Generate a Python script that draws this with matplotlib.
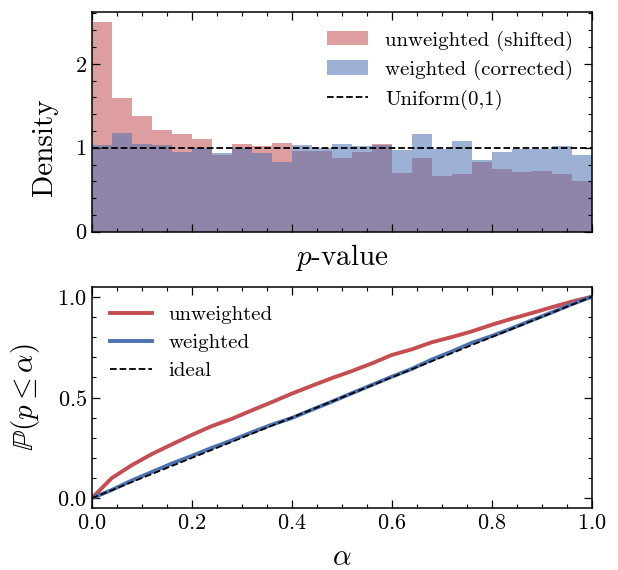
import numpy as np
import matplotlib
matplotlib.use("Agg")
import matplotlib.pyplot as plt
from matplotlib.ticker import MultipleLocator

plt.rcParams.update({
    "font.family": "serif",
    "font.serif": ["cmr10"],
    "mathtext.fontset": "cm",
    "axes.formatter.use_mathtext": True,
    "font.size": 16,
    "axes.labelsize": 21,
    "xtick.labelsize": 16,
    "ytick.labelsize": 16,
    "axes.linewidth": 1.1,
    "xtick.direction": "in",
    "ytick.direction": "in",
    "xtick.top": True,
    "ytick.right": True,
    "xtick.major.size": 5.5,
    "ytick.major.size": 5.5,
    "xtick.minor.size": 3.0,
    "ytick.minor.size": 3.0,
    "xtick.major.width": 0.9,
    "ytick.major.width": 0.9,
    "xtick.minor.width": 0.8,
    "ytick.minor.width": 0.8,
})

# p-value histogram densities (25 equal bins on [0, 1])
bin_edges = np.linspace(0.0, 1.0, 26)
density_unweighted = [2.496, 1.591, 1.377, 1.210, 1.163, 1.103, 0.913, 1.044, 1.020,
                      1.056, 0.964, 0.964, 0.877, 0.949, 1.040, 0.698, 0.877, 0.663,
                      0.687, 0.830, 0.746, 0.710, 0.722, 0.687, 0.603]
density_weighted = [1.036, 1.175, 1.044, 1.032, 0.952, 1.000, 0.940, 1.000, 0.937,
                    0.830, 1.032, 1.000, 1.044, 1.020, 1.030, 0.972, 1.163, 0.984,
                    1.080, 0.853, 0.949, 0.988, 0.988, 1.020, 0.913]

# empirical P(p <= alpha) on an alpha grid
alpha_grid = [0.00, 0.04, 0.08, 0.12, 0.16, 0.20, 0.24, 0.28, 0.32, 0.36, 0.40, 0.44, 0.48,
              0.52, 0.56, 0.60, 0.64, 0.68, 0.72, 0.76, 0.80, 0.84, 0.88, 0.92, 0.96, 1.00]
cdf_unweighted = [0.000, 0.100, 0.164, 0.219, 0.267, 0.314, 0.358, 0.394, 0.436, 0.477,
                  0.519, 0.558, 0.596, 0.631, 0.669, 0.711, 0.739, 0.774, 0.800, 0.828,
                  0.861, 0.891, 0.919, 0.948, 0.976, 1.000]
cdf_weighted = [0.000, 0.041, 0.088, 0.130, 0.172, 0.210, 0.250, 0.287, 0.327, 0.365,
                0.398, 0.439, 0.479, 0.521, 0.562, 0.603, 0.642, 0.688, 0.728, 0.771,
                0.805, 0.843, 0.883, 0.922, 0.963, 1.000]

RED = "#C44E52"
BLUE = "#4C72B0"
HIST_ALPHA = 0.55

fig = plt.figure(figsize=(6.18, 5.70), dpi=100)
ax1 = fig.add_axes([0.1484, 0.5935, 0.809, 0.386])
ax2 = fig.add_axes([0.1484, 0.1082, 0.809, 0.3888])

centers = 0.5 * (bin_edges[:-1] + bin_edges[1:])
ax1.hist(centers, bins=bin_edges, weights=density_unweighted, histtype="stepfilled",
         color=RED, alpha=HIST_ALPHA, linewidth=0, label="unweighted (shifted)")
ax1.hist(centers, bins=bin_edges, weights=density_weighted, histtype="stepfilled",
         color=BLUE, alpha=HIST_ALPHA, linewidth=0, label="weighted (corrected)")
ax1.axhline(1.0, color="black", linestyle="--", linewidth=1.3, label="Uniform(0,1)")
ax1.set_xlim(0, 1)
ax1.set_ylim(0, 2.62)
ax1.set_xlabel("$p$-value")
ax1.set_ylabel("Density")
ax1.yaxis.set_label_coords(-0.068, 0.385)
ax1.set_xticklabels([])
ax1.xaxis.set_major_locator(MultipleLocator(0.2))
ax1.xaxis.set_minor_locator(MultipleLocator(0.05))
ax1.yaxis.set_major_locator(MultipleLocator(1))
ax1.yaxis.set_minor_locator(MultipleLocator(0.2))
ax1.legend(loc="upper right", frameon=False, fontsize=15, handlelength=2.0,
           borderaxespad=0.5, labelspacing=0.45)

ax2.plot(alpha_grid, cdf_unweighted, color=RED, linewidth=2.8, label="unweighted")
ax2.plot(alpha_grid, cdf_weighted, color=BLUE, linewidth=2.8, label="weighted")
ax2.plot([0, 1], [0, 1], color="black", linestyle="--", linewidth=1.3, label="ideal")
ax2.set_xlim(0, 1)
ax2.set_ylim(-0.05, 1.05)
ax2.set_xlabel(r"$\alpha$", labelpad=9)
ax2.set_ylabel(r"$\mathbb{P}(p \leq \alpha)$")
ax2.yaxis.set_label_coords(-0.1, 0.5)
ax2.xaxis.set_major_locator(MultipleLocator(0.2))
ax2.xaxis.set_minor_locator(MultipleLocator(0.05))
ax2.yaxis.set_major_locator(MultipleLocator(0.5))
ax2.yaxis.set_minor_locator(MultipleLocator(0.1))
ax2.legend(loc="upper left", frameon=False, fontsize=15, handlelength=2.0,
           borderaxespad=0.5, labelspacing=0.45)

fig.savefig("out.png", dpi=100)
